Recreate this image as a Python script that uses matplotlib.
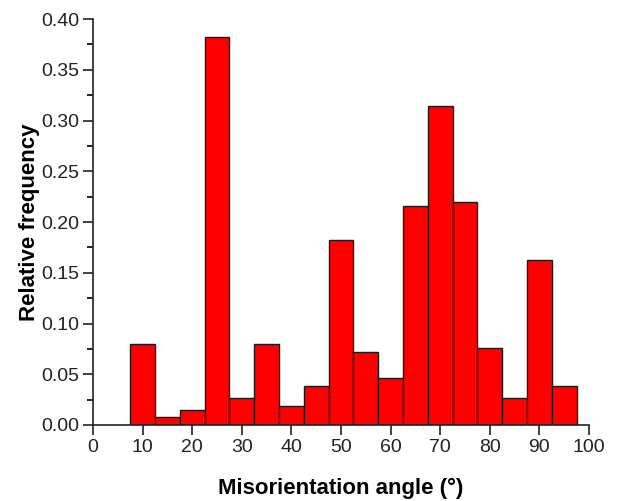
import numpy as np
import matplotlib
matplotlib.use('Agg')
import matplotlib.pyplot as plt
from matplotlib.ticker import MultipleLocator

# Data (bin centres, relative frequency)
angles = [10, 15, 20, 25, 30, 35, 40, 45, 50, 55, 60, 65, 70, 75, 80, 85, 90, 95]
freq = [0.080, 0.008, 0.015, 0.382, 0.027, 0.080, 0.019, 0.038, 0.182, 0.072,
        0.046, 0.216, 0.314, 0.220, 0.076, 0.027, 0.163, 0.038]
x_ticks = [0, 10, 20, 30, 40, 50, 60, 70, 80, 90, 100]

plt.rcParams['font.family'] = ['Liberation Sans', 'DejaVu Sans']

fig = plt.figure(figsize=(6.18, 5.01), dpi=100)
ax = fig.add_axes([0.1505, 0.1517, 0.8025, 0.8103])

ax.bar(angles, freq, width=5, color='#ff0000', edgecolor='#1a1a1a', linewidth=1.0)

ax.set_xlim(0, 100)
ax.set_ylim(0, 0.40)
ax.set_xticks(x_ticks)
ax.yaxis.set_major_locator(MultipleLocator(0.05))
ax.yaxis.set_minor_locator(MultipleLocator(0.025))
ax.yaxis.set_major_formatter(plt.FormatStrFormatter('%.2f'))

ax.spines['top'].set_visible(False)
ax.spines['right'].set_visible(False)
for s in ['left', 'bottom']:
    ax.spines[s].set_linewidth(1.2)
    ax.spines[s].set_color('#222222')

ax.tick_params(axis='both', which='major', direction='out', length=7, width=1.2,
               labelsize=14, colors='#222222', pad=3)
ax.tick_params(axis='y', which='minor', direction='out', length=4, width=1.2)

ax.set_xlabel('Misorientation angle (°)', fontsize=16, fontweight='bold', labelpad=16)
ax.set_ylabel('Relative frequency', fontsize=16, fontweight='bold', labelpad=1)

fig.savefig('out.png', dpi=100)
